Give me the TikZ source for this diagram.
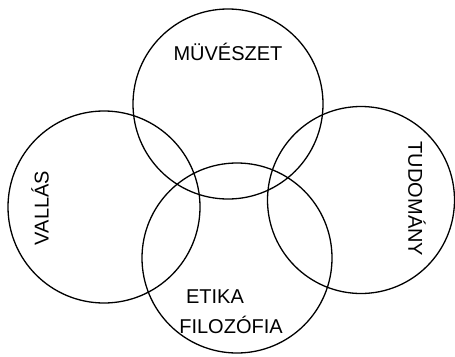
\documentclass[tikz,border=0pt]{standalone}
\usepackage{fontspec}
\setmainfont{Liberation Sans}
\usepackage{tikz}

\begin{document}
\begin{tikzpicture}[x=1pt,y=-1pt,
  ring/.style={draw,circle,line width=1.3pt,inner sep=0pt},
  lbl/.style={font=\fontsize{20}{24}\selectfont,inner sep=0pt,align=center}]

  \useasboundingbox (0,0) rectangle (455,356);

  \node[ring,minimum size=190pt] (muv)  at (228,104) {};
  \node[ring,minimum size=192pt] (vall) at (104,207) {};
  \node[ring,minimum size=187pt] (tud)  at (361,200) {};
  \node[ring,minimum size=190pt] (etik) at (237,258) {};

  \node[lbl] (muvtxt)  at (228,52)  {MÜVÉSZET};
  \node[lbl,rotate=90]  (valltxt) at (40,208)  {VALLÁS};
  \node[lbl,rotate=-90] (tudtxt)  at (417,199) {TUDOMÁNY};
  \node[lbl] (etiktxt) at (215,297) {ETIKA};
  \node[lbl] (filtxt)  at (231,325) {FILOZÓFIA};

\end{tikzpicture}
\end{document}
